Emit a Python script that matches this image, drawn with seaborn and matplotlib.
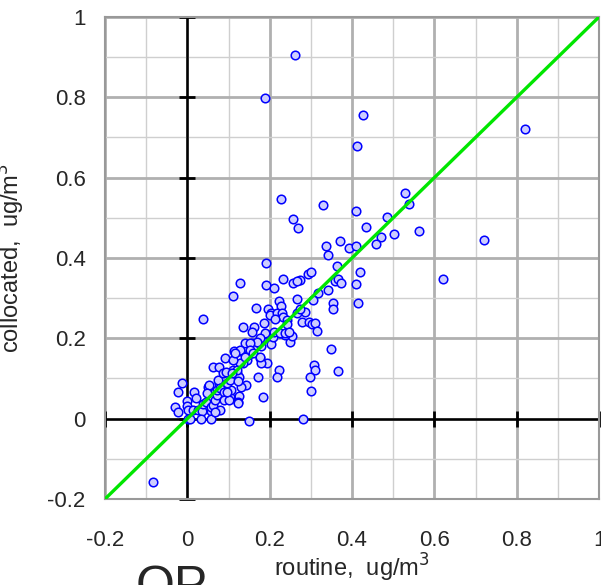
import matplotlib as mpl
mpl.use('Agg')
from matplotlib import pyplot as plt
import numpy as np
import pandas as pd
import seaborn as sns

# routine vs collocated OP, ug/m3
routine = [
    0.262, 0.189, 0.427, 0.412, 0.82, 0.72, 0.62, -0.083,
    0.228, 0.256, 0.269, 0.19, 0.33,
    0.529, 0.539, 0.41, 0.434, 0.485, 0.502, 0.563, 0.47, 0.459, 0.371, 0.393, 0.41, 0.337, 0.342,
    0.364, 0.293, 0.3, 0.42, 0.358, 0.366, 0.373, 0.41, 0.318, 0.342, 0.305, 0.274,
    0.354, 0.354, 0.414, 0.285, 0.278, 0.296, 0.302, 0.311, 0.315, 0.349, 0.307, 0.309, 0.367,
    0.298, 0.3, 0.28,
    0.223, 0.218, 0.172, 0.184, 0.143, 0.131, 0.126, 0.123, 0.104, 0.15,
    0.177, 0.194, 0.179, 0.25, 0.254, 0.204, 0.145, 0.148, 0.155, 0.136, 0.128, 0.114, 0.128,
    0.141, 0.157, 0.167, 0.179, 0.184, 0.191, 0.208, 0.225, 0.237, 0.111, 0.12, 0.126, 0.106,
    0.128, 0.111, 0.038, 0.191, 0.211, 0.233, 0.257, 0.267, 0.266, 0.223, 0.227, 0.167, 0.196,
    0.204, 0.2, 0.218, 0.23, 0.232, 0.213, 0.241, 0.242, 0.266, 0.274, 0.187, 0.136, 0.162,
    0.157, 0.189, 0.21, 0.225, 0.238, 0.247, 0.177, 0.169, 0.152, 0.128, 0.152, 0.16, 0.177,
    0.092, 0.14,
    -0.013, -0.022, -0.03, -0.022, 0.0, 0.0, 0.002, 0.002, 0.007, 0.016, 0.021, 0.014, 0.026,
    0.036, 0.033, 0.038, 0.045, 0.05, 0.053, 0.048, 0.058, 0.058, 0.058, 0.063, 0.077, 0.063,
    0.067, 0.072, 0.073, 0.078, 0.075, 0.08, 0.087, 0.093, 0.088, 0.088, 0.1, 0.097, 0.097,
    0.104, 0.112, 0.115, 0.12, 0.124, 0.124, 0.109, 0.08, 0.067,
]
collocated = [
    0.905, 0.798, 0.755, 0.679, 0.722, 0.445, 0.347, -0.158,
    0.546, 0.496, 0.475, 0.388, 0.532,
    0.562, 0.534, 0.517, 0.477, 0.503, 0.459, 0.467, 0.452, 0.436, 0.442, 0.425, 0.43, 0.431, 0.408,
    0.379, 0.36, 0.365, 0.365, 0.343, 0.347, 0.338, 0.336, 0.313, 0.32, 0.295, 0.345,
    0.287, 0.273, 0.287, 0.265, 0.24, 0.24, 0.236, 0.237, 0.218, 0.173, 0.133, 0.122, 0.119,
    0.104, 0.069, 0.0,
    0.121, 0.104, 0.104, 0.054, 0.084, 0.079, 0.056, 0.042, 0.054, -0.006,
    0.15, 0.139, 0.138, 0.191, 0.205, 0.186, 0.146, 0.158, 0.164, 0.139, 0.139, 0.169, 0.169,
    0.189, 0.189, 0.181, 0.181, 0.2, 0.21, 0.204, 0.214, 0.208, 0.121, 0.113, 0.104, 0.071,
    0.337, 0.305, 0.248, 0.333, 0.325, 0.347, 0.338, 0.343, 0.298, 0.293, 0.28, 0.275, 0.272,
    0.262, 0.257, 0.263, 0.262, 0.253, 0.248, 0.246, 0.236, 0.262, 0.272, 0.238, 0.228, 0.228,
    0.215, 0.213, 0.216, 0.213, 0.213, 0.216, 0.2, 0.191, 0.189, 0.171, 0.171, 0.163, 0.153,
    0.15, 0.153,
    0.088, 0.067, 0.03, 0.017, 0.045, 0.032, 0.022, 0.0, 0.0, 0.067, 0.052, 0.022, 0.022,
    0.02, 0.0, 0.036, 0.042, 0.08, 0.085, 0.064, 0.02, 0.03, 0.0, 0.129, 0.129, 0.035,
    0.047, 0.06, 0.072, 0.088, 0.096, 0.077, 0.113, 0.117, 0.067, 0.047, 0.047, 0.067, 0.088,
    0.096, 0.146, 0.163, 0.12, 0.095, 0.04, 0.113, 0.022, 0.017,
]
ticks = [-0.2, 0, 0.2, 0.4, 0.6, 0.8, 1]
tick_labels = ["-0.2", "0", "0.2", "0.4", "0.6", "0.8", "1"]
minor_ticks = [-0.1, 0.1, 0.3, 0.5, 0.7, 0.9]

sns.set_theme(style="white")
plt.rcParams['font.family'] = ['Liberation Sans', 'DejaVu Sans']

df = pd.DataFrame({"routine": routine, "collocated": collocated})

fig = plt.figure(figsize=(6.01, 5.85), dpi=100)
ax = fig.add_axes([0.1747, 0.147, 0.822, 0.824])

# grid
ax.set_xticks(minor_ticks, minor=True)
ax.set_yticks(minor_ticks, minor=True)
ax.grid(which='major', color='#b0b0b0', linewidth=2.0, zorder=0)
ax.grid(which='minor', color='#cfcfcf', linewidth=1.0, zorder=0)
ax.set_axisbelow(True)

# zero axes with cross ticks
ax.axhline(0, color='black', lw=1.8, zorder=2)
ax.axvline(0, color='black', lw=1.8, zorder=2)
ax.plot(ticks, [0] * len(ticks), ls='none', marker='|', ms=11, mew=2.0, color='black', zorder=2, clip_on=False)
ax.plot([0] * len(ticks), ticks, ls='none', marker='_', ms=11, mew=2.0, color='black', zorder=2, clip_on=False)

sns.scatterplot(data=df, x="routine", y="collocated", ax=ax, s=38,
                facecolor='#cdcdff', edgecolor='#0000ff', linewidth=1.1, zorder=3)
ax.axline((0, 0), slope=1, color='#00e600', lw=2.4, zorder=4)

ax.set_xlim(-0.2, 1)
ax.set_ylim(-0.2, 1)
ax.set_xticks(ticks)
ax.set_yticks(ticks)
ax.set_xticklabels(tick_labels)
ax.set_yticklabels(tick_labels)
ax.tick_params(which='both', length=0, labelsize=16)
ax.tick_params(axis='x', pad=22)
ax.tick_params(axis='y', pad=14)
for s in ax.spines.values():
    s.set_color('#999999')
    s.set_linewidth(1.5)

ax.set_xlabel("routine,  ug/m$^3$", fontsize=17)
ax.set_ylabel("collocated,  ug/m$^3$", fontsize=17)
ax.xaxis.set_label_coords(0.5, -0.11)
ax.yaxis.set_label_coords(-0.158, 0.5)

fig.text(0.285, -0.027, "OP", fontsize=36, ha='center', va='baseline')

fig.savefig('out.png', dpi=100)
